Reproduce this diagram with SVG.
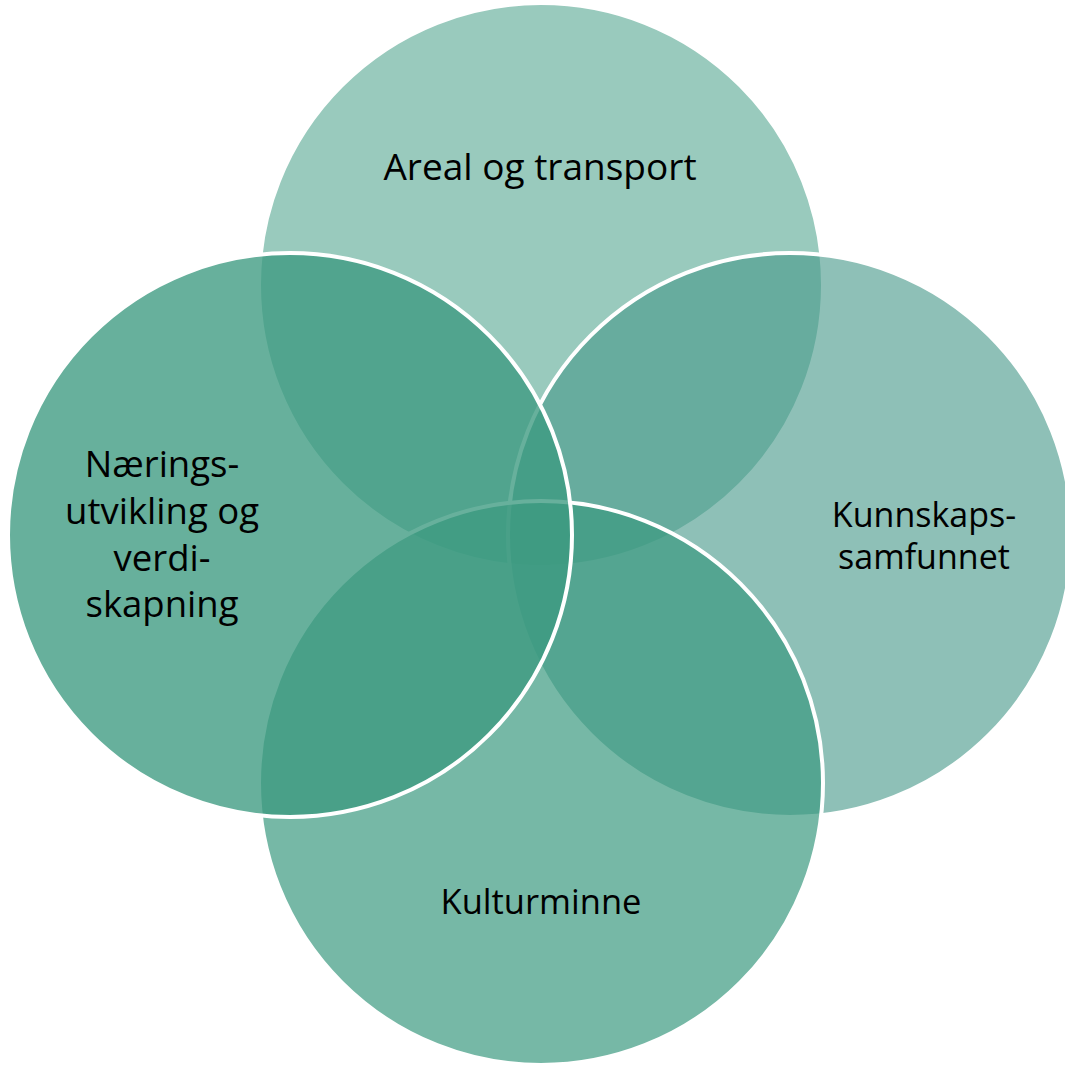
<svg xmlns="http://www.w3.org/2000/svg" width="1065" height="1065" viewBox="0 0 1065 1065">
  <style>
    .c { stroke: #ffffff; stroke-width: 4; }
    .t { font-family: "Open Sans", "Liberation Sans", sans-serif; fill: #000000; text-anchor: middle; }
  </style>
  <rect width="1065" height="1065" fill="#ffffff"/>
  <g id="node-areal">
    <circle class="c" cx="541" cy="285" r="282" fill="#3C9A80" fill-opacity="0.52"/>
  </g>
  <g id="node-kunnskap">
    <circle class="c" cx="790" cy="535" r="282" fill="#48998A" fill-opacity="0.62"/>
  </g>
  <g id="node-kultur">
    <circle class="c" cx="541" cy="783" r="282" fill="#3C9A80" fill-opacity="0.70"/>
  </g>
  <g id="node-naering">
    <circle class="c" cx="290" cy="535" r="282" fill="#3C9A80" fill-opacity="0.78"/>
  </g>
  <g id="labels">
    <text class="t" x="540" y="180" font-size="37">Areal og transport</text>
    <text class="t" x="924" y="527" font-size="34">Kunnskaps-</text>
    <text class="t" x="924" y="569" font-size="34">samfunnet</text>
    <text class="t" x="541" y="914" font-size="34.5">Kulturminne</text>
    <text class="t" x="162" y="477" font-size="36.5">Nærings-</text>
    <text class="t" x="162" y="524" font-size="36.5">utvikling og</text>
    <text class="t" x="162" y="571" font-size="36.5">verdi-</text>
    <text class="t" x="162" y="617" font-size="36.5">skapning</text>
  </g>
  <g id="connectors"/>
</svg>
